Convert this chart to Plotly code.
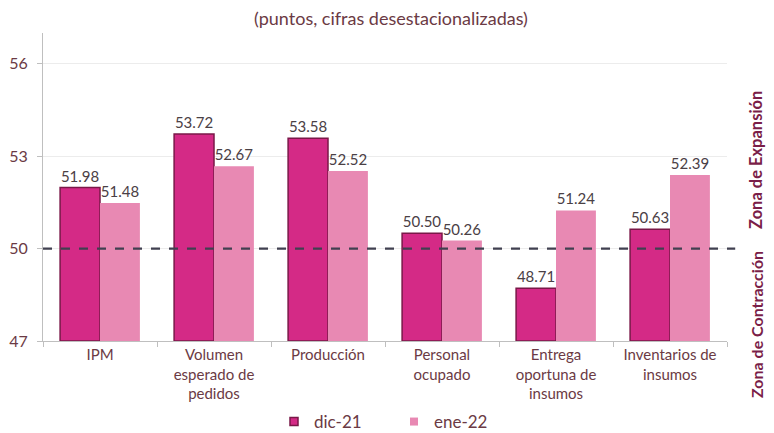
import plotly.graph_objects as go

categories = ["IPM", "Volumen<br>esperado de<br>pedidos", "Producción", "Personal<br>ocupado",
              "Entrega<br>oportuna de<br>insumos", "Inventarios de<br>insumos"]
dic21 = [51.98, 53.72, 53.58, 50.50, 48.71, 50.63]
ene22 = [51.48, 52.67, 52.52, 50.26, 51.24, 52.39]
series_names = ["dic-21", "ene-22"]
y_ticks = [47, 50, 53, 56]
threshold = 50

FONT = "Lato"
LABEL = "#6b3a44"
C1, C1L, C2 = "#D42A86", "#7A1848", "#E889B3"

fig = go.Figure()
fig.add_trace(go.Bar(
    x=categories, y=[v - 47 for v in dic21], base=47, name=series_names[0],
    marker=dict(color=C1, line=dict(color=C1L, width=1.5)), showlegend=False,
    text=[f"{v:.2f}" for v in dic21], textposition="outside",
    textfont=dict(family=FONT, size=15, color="#4a4045"), cliponaxis=False,
))
fig.add_trace(go.Bar(
    x=categories, y=[v - 47 for v in ene22], base=47, name=series_names[1],
    marker=dict(color=C2, line=dict(color=C2, width=0)), showlegend=False,
    text=[f"{v:.2f}" for v in ene22], textposition="outside",
    textfont=dict(family=FONT, size=15, color="#4a4045"), cliponaxis=False,
))
# legend entries with small square symbols
fig.add_trace(go.Scatter(x=[None], y=[None], mode="markers", name=series_names[0],
                         marker=dict(symbol="square", size=8, color=C1,
                                     line=dict(color=C1L, width=1.5))))
fig.add_trace(go.Scatter(x=[None], y=[None], mode="markers", name=series_names[1],
                         marker=dict(symbol="square", size=8, color=C2)))

fig.add_shape(type="line", xref="paper", yref="y", x0=0, x1=1.012, y0=threshold, y1=threshold,
              line=dict(color="#404050", width=2.2, dash="dash"))

fig.add_annotation(text="<b>Zona de Expansión</b>", xref="paper", yref="paper",
                   x=(756 - 43) / 684, xanchor="center", y=(341 - 160) / 308, yanchor="middle",
                   textangle=-90, showarrow=False,
                   font=dict(family=FONT, size=16.5, color="#7a1e48"))
fig.add_annotation(text="<b>Zona de Contracción</b>", xref="paper", yref="paper",
                   x=(756 - 43) / 684, xanchor="center", y=(341 - 325) / 308, yanchor="middle",
                   textangle=-90, showarrow=False,
                   font=dict(family=FONT, size=16, color="#7a1e48"))

fig.update_layout(
    width=766, height=425,
    margin=dict(l=35, r=47, t=25, b=92, autoexpand=False),
    paper_bgcolor="white", plot_bgcolor="white",
    barmode="group", bargap=0.3, bargroupgap=0,
    title=dict(text="(puntos, cifras desestacionalizadas)", x=0.5, xanchor="center",
               y=1 - 11 / 425, yanchor="middle",
               font=dict(family=FONT, size=18, color=LABEL)),
    showlegend=True,
    legend=dict(orientation="h", x=(394 - 43) / 684, xanchor="center", y=-(422 - 341) / 308,
                yanchor="middle",
                font=dict(family=FONT, size=17, color=LABEL), itemwidth=30,
                entrywidth=75),
    font=dict(family=FONT),
)
fig.update_xaxes(
    automargin=False,
    showline=True, linecolor="#bfbfbf", linewidth=1,
    ticks="outside", tickson="boundaries", ticklen=5, tickcolor="#bfbfbf",
    tickfont=dict(family=FONT, size=15, color=LABEL),
)
fig.update_yaxes(
    automargin=False,
    range=[47, 57], tickvals=y_ticks, showline=True, linecolor="#bfbfbf", linewidth=1,
    ticks="outside", ticklen=5, tickcolor="#bfbfbf", ticklabelstandoff=6,
    showgrid=True, gridcolor="#ececec", zeroline=False,
    tickfont=dict(family=FONT, size=16, color=LABEL),
)

fig.write_html("out.html")
